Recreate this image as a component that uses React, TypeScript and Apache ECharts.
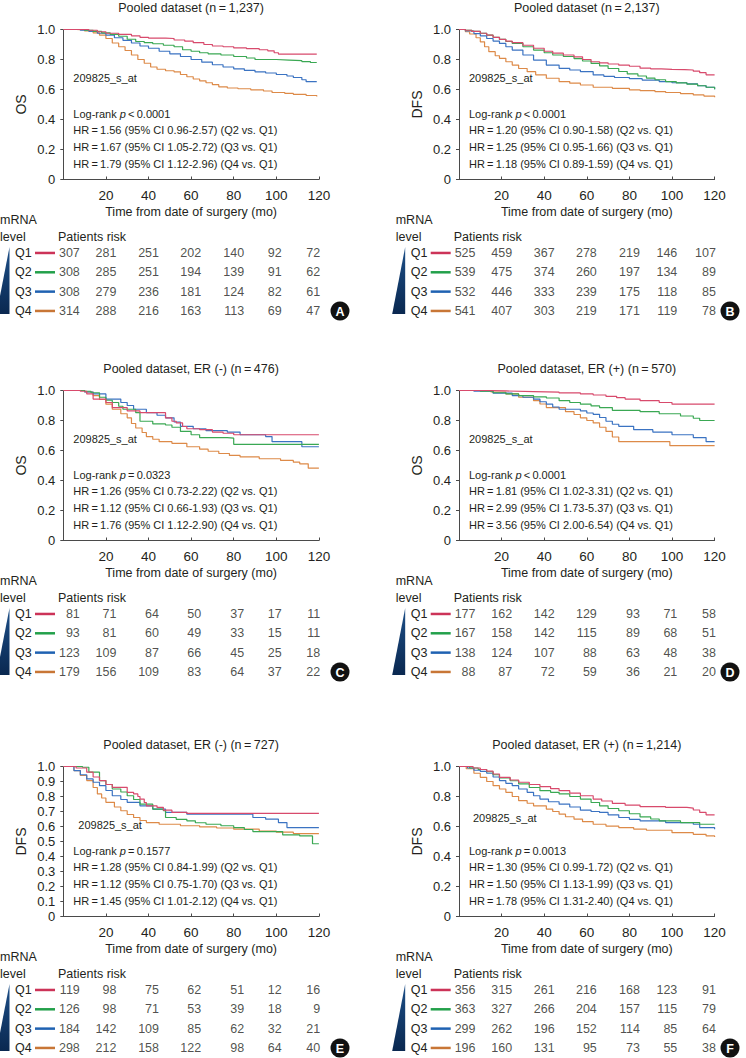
import React, { useEffect, useRef } from "react";
import * as echarts from "echarts";

// ---------- Data ----------
const quartiles = ["Q1", "Q2", "Q3", "Q4"];
const riskTimes = [0, 20, 40, 60, 80, 100, 120];

// Panel A: Pooled dataset OS (n=1,237)
const A_Q1 = [[0,1],[8,1],[12,0.995],[16,0.985],[20,0.975],[26,0.968],[32,0.958],[36,0.948],[40,0.943],[48,0.94],[52,0.93],[57,0.922],[61,0.912],[66,0.9],[70,0.89],[75,0.885],[80,0.877],[86,0.872],[92,0.865],[96,0.858],[99,0.845],[101,0.836],[119,0.834]];
const A_Q2 = [[0,1],[10,0.995],[14,0.988],[18,0.978],[22,0.968],[26,0.955],[30,0.935],[34,0.92],[38,0.912],[42,0.905],[47,0.895],[52,0.885],[56,0.865],[60,0.855],[64,0.845],[68,0.838],[74,0.83],[80,0.82],[86,0.81],[90,0.8],[100,0.796],[106,0.792],[112,0.786],[116,0.78],[119,0.778]];
const A_Q3 = [[0,1],[8,0.995],[12,0.988],[16,0.975],[20,0.962],[24,0.945],[28,0.928],[32,0.91],[36,0.89],[40,0.875],[45,0.855],[50,0.838],[55,0.82],[60,0.8],[65,0.782],[70,0.765],[75,0.75],[80,0.738],[85,0.728],[90,0.718],[95,0.71],[100,0.7],[105,0.69],[108,0.68],[112,0.665],[114,0.652],[119,0.648]];
const A_Q4 = [[0,1],[6,0.997],[10,0.99],[14,0.978],[17,0.962],[20,0.94],[23,0.91],[26,0.885],[29,0.86],[32,0.83],[35,0.8],[38,0.775],[41,0.75],[44,0.735],[48,0.725],[52,0.718],[55,0.7],[58,0.685],[61,0.67],[64,0.658],[67,0.645],[70,0.632],[73,0.618],[77,0.61],[82,0.605],[88,0.598],[94,0.59],[98,0.58],[104,0.574],[108,0.568],[114,0.56],[119,0.553]];
const riskA = [[307,281,251,202,140,92,72],[308,285,251,194,139,91,62],[308,279,236,181,124,82,61],[314,288,216,163,113,69,47]];
const statsA = ["<\u20090.0001", "1.56 (95% CI 0.96-2.57)", "1.67 (95% CI 1.05-2.72)", "1.79 (95% CI 1.12-2.96)"];

// Panel B: Pooled dataset DFS (n=2,137)
const B_Q1 = [[0,1],[3,0.995],[6,0.988],[10,0.975],[13,0.962],[16,0.948],[19,0.934],[22,0.922],[25,0.912],[30,0.895],[35,0.875],[40,0.855],[44,0.842],[49,0.83],[54,0.818],[58,0.8],[62,0.785],[66,0.778],[70,0.77],[75,0.762],[80,0.755],[85,0.742],[90,0.737],[95,0.734],[100,0.732],[106,0.73],[110,0.722],[113,0.712],[116,0.698],[120,0.695]];
const B_Q2 = [[0,1],[3,0.995],[6,0.987],[10,0.975],[13,0.962],[16,0.948],[19,0.934],[22,0.92],[25,0.907],[30,0.885],[35,0.863],[40,0.845],[44,0.83],[49,0.82],[54,0.806],[58,0.79],[62,0.774],[66,0.758],[70,0.74],[75,0.72],[79,0.704],[84,0.69],[88,0.676],[92,0.665],[97,0.653],[102,0.644],[107,0.636],[112,0.625],[116,0.615],[120,0.602]];
const B_Q3 = [[0,1],[3,0.99],[7,0.973],[10,0.957],[13,0.94],[16,0.923],[19,0.907],[22,0.885],[25,0.863],[30,0.83],[35,0.796],[41,0.763],[47,0.741],[52,0.73],[57,0.719],[63,0.697],[68,0.688],[73,0.68],[80,0.672],[86,0.663],[94,0.653],[100,0.645],[107,0.637],[112,0.625],[116,0.615],[120,0.602]];
const B_Q4 = [[0,1],[3,0.985],[5,0.97],[8,0.945],[10,0.918],[12,0.885],[14,0.852],[17,0.825],[19,0.808],[22,0.785],[25,0.763],[28,0.74],[32,0.719],[36,0.698],[41,0.675],[47,0.653],[52,0.642],[57,0.63],[63,0.615],[72,0.608],[80,0.598],[85,0.593],[92,0.586],[97,0.58],[104,0.572],[110,0.564],[115,0.556],[120,0.549]];
const riskB = [[525,459,367,278,219,146,107],[539,475,374,260,197,134,89],[532,446,333,239,175,118,85],[541,407,303,219,171,119,78]];
const statsB = ["<\u20090.0001", "1.20 (95% CI 0.90-1.58)", "1.25 (95% CI 0.95-1.66)", "1.18 (95% CI 0.89-1.59)"];

// Panel C: ER(-) OS (n=476)
const C_Q1 = [[0,1],[8,0.995],[11,0.977],[14,0.943],[20,0.92],[23,0.886],[30,0.864],[36,0.852],[46,0.852],[48,0.818],[51,0.795],[53,0.784],[56,0.76],[58,0.745],[64,0.739],[70,0.723],[75,0.715],[80,0.705],[120,0.705]];
const C_Q2 = [[0,1],[10,0.995],[13,0.985],[17,0.955],[20,0.935],[23,0.92],[26,0.895],[28,0.875],[34,0.852],[36,0.795],[42,0.777],[48,0.77],[51,0.755],[55,0.727],[60,0.705],[64,0.686],[77,0.682],[80,0.641],[120,0.641]];
const C_Q3 = [[0,1],[10,0.99],[14,0.977],[20,0.943],[27,0.92],[30,0.9],[33,0.875],[39,0.852],[44,0.835],[48,0.818],[52,0.79],[55,0.761],[61,0.745],[67,0.732],[77,0.723],[83,0.705],[95,0.693],[98,0.659],[112,0.625],[120,0.625]];
const C_Q4 = [[0,1],[10,0.99],[14,0.966],[17,0.94],[20,0.909],[23,0.875],[27,0.845],[30,0.818],[32,0.78],[34,0.75],[37,0.72],[39,0.693],[42,0.675],[45,0.659],[51,0.648],[58,0.625],[64,0.609],[68,0.595],[73,0.58],[78,0.567],[83,0.557],[92,0.545],[102,0.534],[108,0.522],[111,0.511],[115,0.482],[120,0.482]];
const riskC = [[81,71,64,50,37,17,11],[93,81,60,49,33,15,11],[123,109,87,66,45,25,18],[179,156,109,83,64,37,22]];
const statsC = ["=\u20090.0323", "1.26 (95% CI 0.73-2.22)", "1.12 (95% CI 0.66-1.93)", "1.76 (95% CI 1.12-2.90)"];

// Panel D: ER(+) OS (n=570)
const D_Q1 = [[0,1],[13,0.997],[22,0.993],[35,0.989],[47,0.984],[57,0.977],[63,0.97],[69,0.961],[74,0.952],[78,0.943],[85,0.932],[94,0.92],[100,0.909],[120,0.909]];
const D_Q2 = [[0,1],[10,0.995],[16,0.985],[22,0.977],[28,0.966],[35,0.958],[41,0.95],[47,0.932],[52,0.92],[57,0.909],[62,0.897],[66,0.886],[72,0.868],[85,0.859],[94,0.845],[104,0.83],[110,0.815],[113,0.8],[120,0.797]];
const D_Q3 = [[0,1],[7,0.995],[16,0.982],[25,0.966],[30,0.955],[35,0.943],[38,0.925],[41,0.909],[44,0.89],[47,0.875],[57,0.864],[60,0.85],[63,0.841],[66,0.82],[69,0.795],[72,0.775],[75,0.761],[82,0.739],[91,0.723],[100,0.705],[110,0.686],[116,0.659],[120,0.659]];
const D_Q4 = [[0,1],[15,0.99],[22,0.977],[28,0.955],[35,0.932],[38,0.91],[41,0.886],[50,0.859],[54,0.84],[57,0.818],[60,0.8],[63,0.784],[66,0.755],[69,0.727],[72,0.69],[75,0.659],[99,0.632],[120,0.632]];
const riskD = [[177,162,142,129,93,71,58],[167,158,142,115,89,68,51],[138,124,107,88,63,48,38],[88,87,72,59,36,21,20]];
const statsD = ["<\u20090.0001", "1.81 (95% CI 1.02-3.31)", "2.99 (95% CI 1.73-5.37)", "3.56 (95% CI 2.00-6.54)"];

// Panel E: ER(-) DFS (n=727)
const E_Q1 = [[0,1],[6,0.99],[11,0.962],[14,0.93],[17,0.906],[20,0.88],[23,0.861],[30,0.828],[33,0.817],[35,0.8],[36,0.783],[38,0.76],[39,0.738],[44,0.727],[47,0.709],[51,0.694],[58,0.687],[120,0.687]];
const E_Q2 = [[0,1],[9,0.995],[12,0.962],[17,0.906],[20,0.88],[23,0.85],[27,0.83],[30,0.805],[33,0.78],[36,0.749],[42,0.716],[47,0.705],[48,0.66],[53,0.648],[58,0.638],[62,0.625],[67,0.615],[74,0.605],[80,0.593],[85,0.58],[89,0.566],[103,0.544],[111,0.537],[117,0.485],[120,0.485]];
const E_Q3 = [[0,1],[5,0.973],[8,0.945],[11,0.917],[14,0.895],[17,0.872],[20,0.84],[23,0.805],[27,0.78],[30,0.761],[36,0.738],[42,0.716],[48,0.694],[58,0.682],[86,0.682],[89,0.66],[95,0.649],[101,0.626],[105,0.593],[120,0.593]];
const E_Q4 = [[0,1],[5,0.973],[8,0.94],[11,0.906],[14,0.86],[16,0.817],[18,0.79],[20,0.761],[24,0.73],[27,0.705],[30,0.68],[33,0.66],[36,0.64],[39,0.626],[45,0.615],[55,0.605],[64,0.597],[72,0.59],[80,0.582],[92,0.57],[100,0.562],[108,0.553],[120,0.553]];
const riskE = [[119,98,75,62,51,12,16],[126,98,71,53,39,18,9],[184,142,109,85,62,32,21],[298,212,158,122,98,64,40]];
const statsE = ["=\u20090.1577", "1.28 (95% CI 0.84-1.99)", "1.12 (95% CI 0.75-1.70)", "1.45 (95% CI 1.01-2.12)"];

// Panel F: ER(+) DFS (n=1,214)
const F_Q1 = [[0,1],[6.6,0.99],[10,0.98],[13,0.969],[16,0.95],[19,0.928],[24,0.91],[28,0.895],[33,0.88],[38,0.866],[43,0.852],[47,0.839],[52,0.822],[57,0.805],[63,0.783],[67,0.77],[72,0.754],[78,0.742],[85,0.732],[97,0.727],[107,0.723],[110,0.71],[113,0.694],[116,0.678],[120,0.678]];
const F_Q2 = [[0,1],[5,0.99],[9,0.98],[13,0.965],[16,0.945],[19,0.924],[24,0.905],[28,0.884],[33,0.86],[38,0.839],[43,0.828],[47,0.817],[52,0.8],[57,0.783],[62,0.76],[66,0.738],[70,0.72],[75,0.705],[80,0.685],[85,0.664],[90,0.65],[94,0.638],[104,0.626],[113,0.615],[120,0.611]];
const F_Q3 = [[0,1],[4,0.99],[7,0.975],[10,0.968],[13,0.955],[16,0.93],[19,0.906],[22,0.888],[25,0.872],[28,0.85],[32,0.828],[35,0.805],[38,0.783],[42,0.765],[47,0.749],[52,0.73],[57,0.709],[62,0.7],[66,0.694],[70,0.678],[75,0.66],[80,0.648],[85,0.638],[97,0.626],[110,0.615],[113,0.593],[120,0.582]];
const F_Q4 = [[0,1],[3.4,0.985],[7,0.955],[10,0.928],[13,0.9],[16,0.872],[19,0.85],[22,0.828],[25,0.8],[28,0.772],[32,0.755],[35,0.738],[41,0.716],[44,0.7],[47,0.682],[50,0.665],[54,0.649],[58,0.632],[63,0.615],[69,0.603],[75,0.593],[82,0.583],[88,0.575],[100,0.559],[110,0.548],[116,0.537],[120,0.53]];
const riskF = [[356,315,261,216,168,123,91],[363,327,266,204,157,115,79],[299,262,196,152,114,85,64],[196,160,131,95,73,55,38]];
const statsF = ["=\u20090.0013", "1.30 (95% CI 0.99-1.72)", "1.50 (95% CI 1.13-1.99)", "1.78 (95% CI 1.31-2.40)"];

const titles = [
  "Pooled dataset (n\u2009=\u20091,237)",
  "Pooled dataset (n\u2009=\u20092,137)",
  "Pooled dataset, ER (-) (n\u2009=\u2009476)",
  "Pooled dataset, ER (+) (n\u2009=\u2009570)",
  "Pooled dataset, ER (-) (n\u2009=\u2009727)",
  "Pooled dataset, ER (+) (n\u2009=\u20091,214)",
];
const yNames = ["OS", "DFS", "OS", "OS", "DFS", "DFS"];
const letters = ["A", "B", "C", "D", "E", "F"];
const probeName = "209825_s_at";

// ---------- Styling / layout ----------
const FONT = "'Liberation Sans', Arial, Helvetica, sans-serif";
const TEXT = "#231f20";
const AXIS = "#4a4a4a";
const curveColors = ["#d84a6c", "#3aa853", "#3b73c2", "#dd8a48"];
const keyColors = ["#cc3358", "#22a04a", "#1f62b2", "#c87636"];
const COL_X = [0, 395.7];
const ROW_Y = [0, 361, 737];
const PLOT_L = 63.3, PLOT_W = 255.6, PLOT_T = 29.5, PLOT_H = 150;
const TABLE_T = 243.3, ROW_H = 19.33;
const NUM_OFFSETS = [17, 11, 11, 10.5, 11, 5.8, 1.8];

function buildOption() {
  const curves = [
    [A_Q1, A_Q2, A_Q3, A_Q4],
    [B_Q1, B_Q2, B_Q3, B_Q4],
    [C_Q1, C_Q2, C_Q3, C_Q4],
    [D_Q1, D_Q2, D_Q3, D_Q4],
    [E_Q1, E_Q2, E_Q3, E_Q4],
    [F_Q1, F_Q2, F_Q3, F_Q4],
  ];
  const risks = [riskA, riskB, riskC, riskD, riskE, riskF];
  const stats = [statsA, statsB, statsC, statsD, statsE, statsF];
  const probeDy = [48, 48, 48, 48, 58, 51];
  const probeDx = [10, 10, 10, 10, 15, 14];

  const grid: any[] = [];
  const xAxis: any[] = [];
  const yAxis: any[] = [];
  const series: any[] = [];
  const graphic: any[] = [];

  const txt = (x: number, y: number, text: string, size: number, opts: any = {}) => ({
    type: "text",
    x, y,
    silent: true,
    style: {
      text,
      fontSize: size,
      fontFamily: FONT,
      fill: opts.fill || TEXT,
      fontWeight: opts.weight || "normal",
      align: opts.align || "left",
      textAlign: opts.align || "left",
      verticalAlign: "middle",
      textVerticalAlign: "middle",
      rich: opts.rich,
    },
  });

  for (let k = 0; k < 6; k++) {
    const cx = COL_X[k % 2];
    const ry = ROW_Y[Math.floor(k / 2)];
    const gl = cx + PLOT_L;
    const gt = ry + PLOT_T;
    const isE = k === 4;

    grid.push({ left: gl, top: gt, width: PLOT_W, height: PLOT_H });
    grid.push({ left: gl, top: ry + TABLE_T, width: PLOT_W, height: ROW_H * 4 });

    xAxis.push({
      gridIndex: 2 * k, type: "value", min: 0, max: 120, interval: 20,
      axisLine: { show: true, onZero: false, lineStyle: { color: AXIS, width: 1 } },
      axisTick: { show: true, inside: true, length: 3, lineStyle: { color: AXIS } },
      axisLabel: { formatter: (v: number) => (v === 0 ? "" : String(v)), fontSize: 13.5, color: TEXT, margin: 9, fontFamily: FONT },
      splitLine: { show: false },
      name: "Time from date of surgery (mo)", nameLocation: "middle", nameGap: 26,
      nameTextStyle: { fontSize: 12.5, color: TEXT, fontFamily: FONT },
    });
    xAxis.push({ gridIndex: 2 * k + 1, type: "value", min: 0, max: 120, show: false });

    yAxis.push({
      gridIndex: 2 * k, type: "value", min: 0, max: 1, interval: isE ? 0.1 : 0.2,
      axisLine: { show: true, onZero: false, lineStyle: { color: AXIS, width: 1 } },
      axisTick: { show: true, inside: false, length: 3, lineStyle: { color: AXIS } },
      axisLabel: { formatter: (v: number) => (Math.abs(v) < 1e-9 ? "0" : v.toFixed(1)), fontSize: 13, color: TEXT, margin: 8, fontFamily: FONT },
      splitLine: { show: false },
      name: yNames[k], nameLocation: "middle", nameGap: 35,
      nameTextStyle: { fontSize: 14, color: TEXT, fontFamily: FONT },
    });
    yAxis.push({ gridIndex: 2 * k + 1, type: "category", data: quartiles, inverse: true, show: false });

    curves[k].forEach((d, i) => {
      series.push({
        type: "line", xAxisIndex: 2 * k, yAxisIndex: 2 * k, data: d, step: "end",
        symbol: "none", showSymbol: false, silent: true,
        lineStyle: { width: 1.2, color: curveColors[i] }, itemStyle: { color: curveColors[i] },
        z: 2 + (3 - i),
      });
    });

    const tableData: any[] = [];
    risks[k].forEach((row, i) => {
      row.forEach((n, j) => {
        tableData.push({ value: [riskTimes[j], quartiles[i], n], label: { offset: [NUM_OFFSETS[j], 0] } });
      });
    });
    series.push({
      type: "scatter", xAxisIndex: 2 * k + 1, yAxisIndex: 2 * k + 1, data: tableData,
      symbolSize: 1, itemStyle: { color: "rgba(0,0,0,0)" }, silent: true,
      label: {
        show: true, position: "left", distance: 0, fontSize: 12.5, color: TEXT, fontFamily: FONT,
        formatter: (p: any) => String(p.value[2]),
      },
    });

    // Title
    graphic.push(txt(gl + PLOT_W / 2, gt - 22, titles[k], 12.5, { align: "center" }));
    // Annotations
    graphic.push(txt(gl + probeDx[k], gt + probeDy[k], probeName, 11));
    graphic.push(txt(gl + 10, gt + 84, `Log-rank {i|p}\u2009${stats[k][0]}`, 11, {
      rich: { i: { fontStyle: "italic", fontSize: 11, fontFamily: FONT, fill: TEXT } },
    }));
    for (let h = 1; h <= 3; h++) {
      graphic.push(txt(gl + 10, gt + 84 + 16.7 * h, `HR\u2009=\u2009${stats[k][h]} (Q${h + 1} vs. Q1)`, 11));
    }
    // Risk table headings
    graphic.push(txt(cx, ry + 220, "mRNA", 12.5));
    graphic.push(txt(cx, ry + 237, "level", 12.5));
    graphic.push(txt(cx + 58, ry + 237, "Patients risk", 12.5));
    const rowC = (i: number) => ry + TABLE_T + (i + 0.5) * ROW_H;
    quartiles.forEach((q, i) => {
      graphic.push(txt(cx + 15, rowC(i), q, 12.5));
      graphic.push({
        type: "line", silent: true,
        shape: { x1: cx + 35, y1: rowC(i), x2: cx + 55, y2: rowC(i) },
        style: { stroke: keyColors[i], lineWidth: 2.5 },
      });
    });
    // Wedge
    graphic.push({
      type: "polygon", silent: true,
      shape: { points: [[cx + 9.5, ry + 247], [cx + 9.5, ry + 314], [cx - 3.5, ry + 314]] },
      style: {
        fill: new echarts.graphic.LinearGradient(0, 0, 0, 1, [
          { offset: 0, color: "#1d4f88" },
          { offset: 1, color: "#0a2850" },
        ]),
      },
    });
    // Panel letter
    const lx = cx + 340 - (k % 2 === 1 ? 5.7 : 0);
    graphic.push({ type: "circle", silent: true, shape: { cx: lx, cy: ry + 311, r: 9.5 }, style: { fill: "#111" } });
    graphic.push(txt(lx, ry + 311.5, letters[k], 12.5, { align: "center", fill: "#fff", weight: "bold" }));
  }

  return {
    animation: false,
    backgroundColor: "#fff",
    textStyle: { fontFamily: FONT },
    grid, xAxis, yAxis, series, graphic,
  };
}

export default function App() {
  const ref = useRef<HTMLDivElement>(null);
  useEffect(() => {
    const chart = echarts.init(ref.current!, null, { renderer: "svg" });
    chart.setOption(buildOption() as any);
    return () => chart.dispose();
  }, []);
  return (
    <div
      ref={ref}
      style={{ position: "absolute", left: 0, top: 0, width: 746, height: 1058, background: "#fff" }}
    />
  );
}
